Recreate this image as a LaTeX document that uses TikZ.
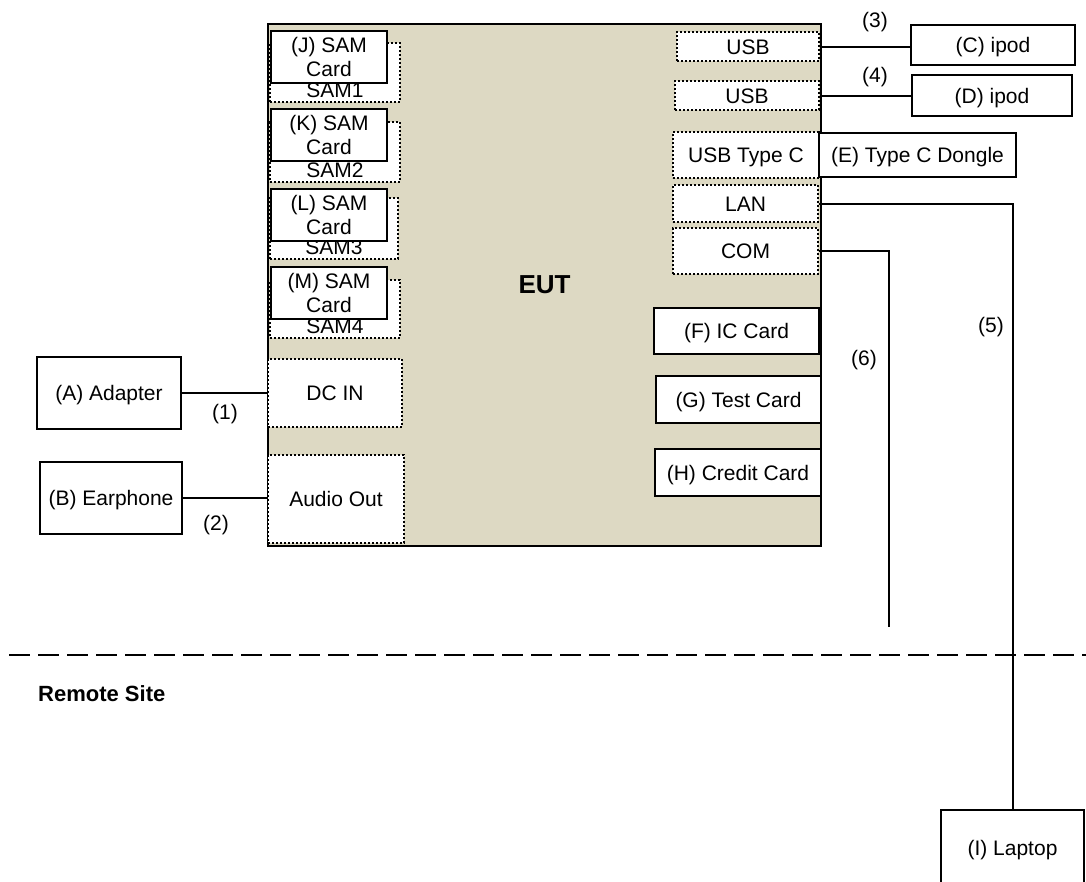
\documentclass[tikz,border=0pt]{standalone}
\usepackage{fontspec}
\setmainfont{Liberation Sans}
\definecolor{eutbg}{RGB}{221,217,195}
\begin{document}
\begin{tikzpicture}[x=1pt,y=-1pt,
  every node/.style={font=\fontsize{21}{24}\selectfont,inner sep=0pt},
  samcard/.style={draw,line width=2.4pt,fill=white,align=center},
  unit/.style={draw,line width=2.4pt,fill=white,text height=15pt,text depth=0pt},
  port/.style={draw,line width=2pt,dash pattern=on 2pt off 2pt,fill=white,text height=15pt,text depth=0pt},
  cable/.style={line width=2pt},
  boldtxt/.style={font=\fontsize{#1}{#1}\selectfont\bfseries}]
\useasboundingbox (0,0) rectangle (1086,881);
\node[draw,line width=2.4pt,fill=eutbg,minimum width=553pt,minimum height=522pt,boldtxt=26] (eut) at (544.5,285) {EUT};
\foreach \L/\n/\ct/\pt/\pb/\pr in {J/1/30/43/102/400, K/2/108/122/182/400, L/3/188/198/259/398, M/4/266/280/338/400} {
  \node[draw,line width=2pt,dash pattern=on 2pt off 2pt,fill=white,minimum width={(\pr-270)*1pt},minimum height={(\pb-\pt)*1pt},
    label={[anchor=south,inner sep=5pt]south:SAM\n}] (sam\n) at ({(270+\pr)/2},{(\pt+\pb)/2}) {};
  \node[samcard,minimum width=116pt,minimum height=52pt] (card\L) at (329,\ct+27) {(\L) SAM\\Card};
}
\node[port,minimum width=134pt,minimum height=68pt] (dcin) at (335,393) {DC IN};
\node[port,minimum width=136pt,minimum height=88pt] (audio) at (336,499) {Audio Out};
\node[port,minimum width=142pt,minimum height=29pt] (usb1) at (748,46.5) {USB};
\node[port,minimum width=144pt,minimum height=29pt] (usb2) at (747,95.5) {USB};
\node[port,minimum width=146pt,minimum height=46pt] (usbc) at (746,155) {USB Type C};
\node[port,minimum width=145pt,minimum height=37pt] (lan) at (745.5,203.5) {LAN};
\node[port,minimum width=145pt,minimum height=46pt] (com) at (745.5,251) {COM};
\node[unit,minimum width=165pt,minimum height=46pt] (iccard) at (736.5,331) {(F) IC Card};
\node[unit,minimum width=165pt,minimum height=47pt] (testcard) at (738.5,399.5) {(G) Test Card};
\node[unit,minimum width=166pt,minimum height=47pt] (creditcard) at (738,472.5) {(H) Credit Card};
\node[unit,minimum width=144pt,minimum height=72pt] (adapter) at (109,393) {(A) Adapter};
\node[unit,minimum width=142pt,minimum height=72pt] (earphone) at (111,498) {(B) Earphone};
\node[unit,minimum width=164pt,minimum height=40pt] (ipodC) at (993,45) {(C) ipod};
\node[unit,minimum width=160pt,minimum height=41pt] (ipodD) at (992,95.5) {(D) ipod};
\node[unit,minimum width=197pt,minimum height=44pt] (dongle) at (917.5,155) {(E) Type C Dongle};
\node[unit,minimum width=143pt,minimum height=76pt] (laptop) at (1012.5,848) {(I) Laptop};
\coordinate (comend) at (889,627);
\coordinate (sepL) at (9,655);
\coordinate (sepR) at (1086,655);
\draw[cable] (adapter.east) -- (dcin.west);
\draw[cable] (earphone.east) -- (earphone.east -| audio.west);
\draw[cable] (usb1.east) -- (usb1.east -| ipodC.west);
\draw[cable] (usb2.east) -- (usb2.east -| ipodD.west);
\draw[cable] (lan.east) -| (laptop.north);
\draw[cable] (com.east) -| (comend);
\draw[line width=2pt,dash pattern=on 21pt off 8pt] (sepL) -- (sepR);
\node (n1) at (225,414) {(1)};
\node (n2) at (216,525) {(2)};
\node (n3) at (875,22) {(3)};
\node (n4) at (875,77) {(4)};
\node (n5) at (991,327) {(5)};
\node (n6) at (864,360) {(6)};
\node[anchor=west,boldtxt=22] (remote) at (38,694) {Remote Site};
\end{tikzpicture}
\end{document}
